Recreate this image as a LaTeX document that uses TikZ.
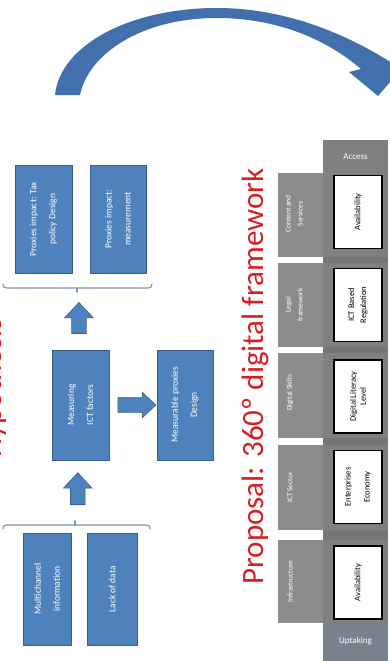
\documentclass[tikz,border=0pt]{standalone}
\usepackage{fontspec}
\setmainfont{Carlito}
\usetikzlibrary{shapes.arrows,calc}
\definecolor{boxblue}{RGB}{79,129,189}
\definecolor{boxedge}{RGB}{56,93,138}
\definecolor{arcblue}{RGB}{66,112,172}
\definecolor{bracegray}{RGB}{128,145,170}
\definecolor{titlered}{RGB}{214,30,36}
\definecolor{panegray}{RGB}{140,140,140}
\definecolor{colgray}{RGB}{128,128,128}
\definecolor{gapgray}{RGB}{118,118,118}
\definecolor{uptakegray}{RGB}{122,130,142}
\begin{document}
\begin{tikzpicture}[x=1pt,y=-1pt,
  bluebox/.style={draw=boxedge,line width=0.8pt,fill=boxblue,text=white,
    rotate=90,align=center,inner sep=1pt,font=\fontsize{9.5}{19}\selectfont},
  blockarrow/.style={single arrow,draw=boxedge,line width=0.6pt,fill=boxblue,
    single arrow tip angle=86,inner sep=7pt},
  bracestyle/.style={draw=bracegray,line width=1.1pt,line cap=round},
  panelabel/.style={text=white,rotate=90,align=center,inner sep=0pt,
    font=\fontsize{7.5}{12}\selectfont},
  whitebox/.style={draw=black,line width=1.3pt,fill=white,rotate=90,align=center,
    inner sep=1pt,minimum width=73pt,minimum height=48pt,
    font=\fontsize{8.5}{12}\selectfont},
  header/.style={fill=colgray,text=white,inner sep=0pt,minimum width=65pt,
    font=\fontsize{9}{10}\selectfont},
  title/.style={text=titlered,rotate=90,inner sep=0pt,anchor=base,
    font=\fontsize{31}{33}\selectfont}]
\useasboundingbox (0,0) rectangle (390,661);
\clip (0,0) rectangle (390,661);

% curved arrow across the top
\fill[arcblue] (55,95) .. controls (60,45) and (130,8) .. (217,8)
  .. controls (280,8) and (340,30) .. (392,63)
  -- (404,66) -- (378,96) -- (349,72) -- (361,69)
  .. controls (325,38) and (275,18) .. (217,18)
  .. controls (140,18) and (88,55) .. (80,95) -- cycle;

% hypothesis side
\node[title] (hyp) at (1.5,388) {Hypothesis};

\node[bluebox,minimum width=108pt,minimum height=57pt] (a1) at (43.5,219)
  {Proxies impact: Tax\\policy Design};
\node[bluebox,minimum width=108pt,minimum height=56pt] (a2) at (118,219)
  {Proxies impact:\\measurement};
\node[bluebox,minimum width=110pt,minimum height=57pt] (b) at (80.5,405)
  {Measuring\\ICT factors};
\node[bluebox,minimum width=110pt,minimum height=56pt] (c) at (185,405)
  {Measurable proxies\\Design};
\node[bluebox,minimum width=112pt,minimum height=48pt] (d1) at (47,589)
  {Multichannel\\information};
\node[bluebox,minimum width=112pt,minimum height=50pt] (d2) at (112,589)
  {Lack of data};

% braces grouping the box pairs
\coordinate (br1) at (77,288);
\coordinate (br2) at (75,525);
\draw[bracestyle] (3,284) .. controls (3,287) and (4,288) .. (7,288)
  -- (148,288) .. controls (151,288) and (152,287) .. (152,284);
\draw[bracestyle] (br1) -- ++(0,4);
\draw[bracestyle] (3,529) .. controls (3,526) and (4,525) .. (7,525)
  -- (146,525) .. controls (149,525) and (150,526) .. (150,529);
\draw[bracestyle] (br2) -- ++(0,-4);

% block arrows between the boxes
\node[blockarrow,rotate=90,minimum height=31pt,
  single arrow head extend=7pt] (up1) at ($(b.east)!0.45!(br1)$) {};
\node[blockarrow,rotate=90,minimum height=32pt,
  single arrow head extend=7pt] (up2) at ($(br2)!0.5!(b.west)$) {};
\node[blockarrow,minimum height=38pt,
  single arrow head extend=5.5pt] (right1) at ($(b.south)!0.5!(c.north)$) {};

% proposal side
\node[title] (prop) at (263,376.5) {Proposal: 360º digital framework};

\fill[gapgray] (323,173) rectangle (388,622);
\node[header,minimum height=33pt] (access) at (355.5,156.5) {Access};
\node[header,fill=uptakegray,minimum height=39pt] (uptake) at (355.5,641.5) {Uptaking};

\foreach \n/\ya/\yb in {1/173/257,2/263/347,3/353/438,4/445/530,5/540/623}{
  \fill[panegray] (278,\ya) rectangle (323,\yb);
  \fill[colgray] (323,\ya) rectangle (388,\yb);
}

\node[panelabel] (l1) at (294,214) {Content and\\Services};
\node[panelabel] (l2) at (294,305) {Legal\\framework};
\node[panelabel] (l3) at (290,393) {Digital Skills};
\node[panelabel] (l4) at (290,487.5) {ICT Sector};
\node[panelabel] (l5) at (290,581.5) {Infrastructure};

\node[whitebox] (w1) at (358,212) {Availability};
\node[whitebox] (w2) at (358,305) {ICT Based\\Regulation};
\node[whitebox,font=\fontsize{8.5}{10}\selectfont] (w3) at (358,396.5)
  {Digital Literacy\\Level};
\node[whitebox,font=\fontsize{8.5}{19}\selectfont] (w4) at (358,487)
  {Enterprises\\Economy};
\node[whitebox] (w5) at (358,582.5) {Availability};
\end{tikzpicture}
\end{document}
